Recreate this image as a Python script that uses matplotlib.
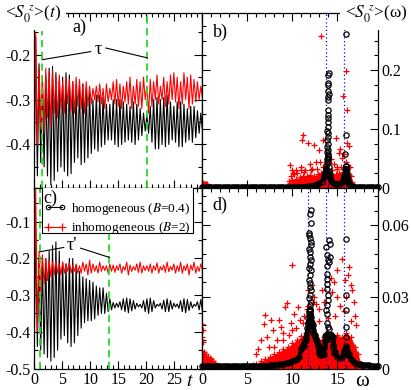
import numpy as np
import matplotlib
matplotlib.use("Agg")
import matplotlib.pyplot as plt
from matplotlib.ticker import MultipleLocator
from matplotlib.lines import Line2D
from matplotlib.patches import Rectangle

plt.rcParams['font.family'] = ['Liberation Serif', 'DejaVu Serif']
plt.rcParams['mathtext.fontset'] = 'stix'
plt.rcParams['axes.unicode_minus'] = False
plt.rcParams['font.size'] = 11.5

# ---------------- time series (extrema sampled every dt) ----------------
dt = 0.3
a_black = [-0.50, -0.16, -0.47, -0.22, -0.44, -0.26, -0.45, -0.25, -0.47, -0.23,
           -0.49, -0.226, -0.48, -0.24, -0.46, -0.26, -0.45, -0.25, -0.46, -0.24,
           -0.47, -0.245, -0.465, -0.26, -0.44, -0.28, -0.43, -0.27, -0.445, -0.265,
           -0.44, -0.275, -0.43, -0.285, -0.42, -0.30, -0.41, -0.29, -0.415, -0.29,
           -0.405, -0.295, -0.40, -0.31, -0.39, -0.31, -0.39, -0.30, -0.40, -0.30,
           -0.405, -0.30, -0.40, -0.305, -0.395, -0.31, -0.39, -0.315, -0.395, -0.305,
           -0.40, -0.31, -0.39, -0.32, -0.38, -0.33, -0.37, -0.335, -0.375, -0.315,
           -0.395, -0.30, -0.41, -0.295, -0.41, -0.30, -0.40, -0.295, -0.405, -0.29,
           -0.40, -0.305, -0.39, -0.315, -0.395, -0.305, -0.405, -0.305, -0.405, -0.31,
           -0.395, -0.32, -0.39, -0.315, -0.395, -0.315, -0.385, -0.325, -0.375, -0.33,
           -0.37]
a_red = [-0.50, -0.15, -0.40, -0.23, -0.36, -0.25, -0.37, -0.23, -0.34, -0.24,
         -0.36, -0.235, -0.33, -0.25, -0.34, -0.245, -0.32, -0.26, -0.33, -0.25,
         -0.31, -0.255, -0.325, -0.26, -0.33, -0.25, -0.315, -0.255, -0.32, -0.265,
         -0.33, -0.26, -0.315, -0.27, -0.31, -0.275, -0.30, -0.27, -0.305, -0.265,
         -0.31, -0.275, -0.32, -0.265, -0.305, -0.275, -0.30, -0.26, -0.31, -0.255,
         -0.315, -0.265, -0.32, -0.27, -0.305, -0.26, -0.31, -0.25, -0.32, -0.27,
         -0.31, -0.255, -0.315, -0.26, -0.32, -0.25, -0.30, -0.27, -0.33, -0.255,
         -0.315, -0.26, -0.30, -0.245, -0.31, -0.27, -0.30, -0.25, -0.315, -0.26,
         -0.31, -0.245, -0.30, -0.24, -0.305, -0.25, -0.32, -0.26, -0.31, -0.24,
         -0.30, -0.25, -0.32, -0.245, -0.31, -0.255, -0.305, -0.26, -0.30, -0.27,
         -0.295]
c_black = [-0.50, -0.12, -0.44, -0.20, -0.45, -0.21, -0.46, -0.20, -0.47, -0.18,
           -0.48, -0.165, -0.47, -0.155, -0.45, -0.18, -0.42, -0.21, -0.41, -0.215,
           -0.43, -0.20, -0.44, -0.20, -0.43, -0.22, -0.41, -0.235, -0.39, -0.25,
           -0.375, -0.255, -0.37, -0.26, -0.37, -0.265, -0.365, -0.275, -0.355, -0.28,
           -0.35, -0.28, -0.35, -0.295, -0.345, -0.31, -0.34, -0.32, -0.335, -0.322,
           -0.333, -0.318, -0.34, -0.31, -0.345, -0.308, -0.348, -0.31, -0.343, -0.315,
           -0.338, -0.322, -0.332, -0.325, -0.335, -0.315, -0.345, -0.31, -0.35, -0.308,
           -0.345, -0.315, -0.335, -0.325, -0.33, -0.322, -0.338, -0.314, -0.345, -0.31,
           -0.345, -0.315, -0.338, -0.322, -0.332, -0.324, -0.336, -0.315, -0.345, -0.31,
           -0.348, -0.312, -0.342, -0.318, -0.335, -0.325, -0.33, -0.318, -0.34, -0.312,
           -0.345]
c_red = [-0.50, -0.01, -0.40, -0.18, -0.29, -0.19, -0.27, -0.20, -0.26, -0.205,
         -0.25, -0.21, -0.245, -0.205, -0.24, -0.215, -0.245, -0.21, -0.24, -0.215,
         -0.235, -0.21, -0.24, -0.22, -0.235, -0.215, -0.24, -0.22, -0.24, -0.21,
         -0.235, -0.215, -0.245, -0.205, -0.24, -0.215, -0.235, -0.22, -0.24, -0.21,
         -0.235, -0.22, -0.233, -0.22, -0.24, -0.215, -0.235, -0.218, -0.238, -0.22,
         -0.232, -0.215, -0.24, -0.222, -0.232, -0.21, -0.245, -0.218, -0.235, -0.222,
         -0.232, -0.215, -0.238, -0.21, -0.24, -0.22, -0.233, -0.22, -0.235, -0.215,
         -0.24, -0.22, -0.232, -0.212, -0.24, -0.222, -0.232, -0.218, -0.238, -0.21,
         -0.236, -0.222, -0.232, -0.215, -0.24, -0.22, -0.235, -0.21, -0.24, -0.22,
         -0.233, -0.215, -0.245, -0.218, -0.232, -0.21, -0.24, -0.222, -0.235, -0.215,
         -0.23]
a_tau = [1.45, 20.2]
c_tau = [1.0, 13.4]

# ---------------- spectra ----------------
w_step = 0.25
b_base_v = [0.0015, 0.0012, 0.001, 0.001, 0.001, 0.001, 0.001, 0.001, 0.001, 0.001,
            0.001, 0.001, 0.001, 0.001, 0.001, 0.001, 0.001, 0.001, 0.001, 0.001,
            0.001, 0.001, 0.001, 0.001, 0.001, 0.001, 0.001, 0.001, 0.001, 0.001,
            0.001, 0.001, 0.001, 0.0012, 0.0012, 0.0012, 0.0013, 0.0014, 0.0015, 0.0015,
            0.0016, 0.0017, 0.0018, 0.002, 0.002, 0.0022, 0.0024, 0.0027, 0.003, 0.004,
            0.005, 0.006, 0.008, 0.011, 0.018, 0.032, 0.026, 0.012, 0.008, 0.006,
            0.006, 0.007, 0.01, 0.02, 0.022, 0.008, 0.004, 0.003, 0.002, 0.0018,
            0.0016, 0.0015, 0.0014, 0.0013, 0.0012, 0.0012, 0.0011, 0.001, 0.001]
b_pk_w = [13.55, 13.6, 13.65, 13.7, 13.75, 13.8, 13.85, 13.9, 13.95, 14.0, 14.05, 14.1, 14.15, 14.2, 14.3,
          15.6, 15.65, 15.7, 15.75, 15.8, 15.85, 15.9, 15.95, 16.0, 16.05, 16.1, 16.15, 16.2]
b_pk_v = [0.02, 0.023, 0.027, 0.032, 0.038, 0.044, 0.05, 0.053, 0.05, 0.044, 0.036, 0.029, 0.023, 0.018, 0.013,
          0.012, 0.014, 0.017, 0.021, 0.026, 0.032, 0.037, 0.038, 0.033, 0.026, 0.02, 0.015, 0.011]
b_col_w = [14.05, 13.98, 13.9, 14.0, 13.95, 14.02, 13.92, 13.97, 13.9, 13.93, 13.95, 13.92, 13.9, 13.88, 13.9,
           13.92, 13.88, 13.9, 13.86, 13.9, 13.88, 13.92, 13.9,
           15.92, 15.9, 15.88, 15.9, 15.92, 15.9]
b_col_v = [0.195, 0.191, 0.178, 0.174, 0.165, 0.160, 0.155, 0.149, 0.133, 0.124, 0.118, 0.112, 0.104, 0.097, 0.093,
           0.086, 0.081, 0.075, 0.070, 0.065, 0.061, 0.058, 0.054,
           0.262, 0.090, 0.058, 0.038, 0.033, 0.028]
b_mass_w = [0.0, 0.2, 0.4, 0.6, 0.8,
            9.4, 9.7, 10.0, 10.4, 10.8, 11.2, 11.6, 12.0, 12.4, 12.8, 13.2, 13.6, 14.0, 14.4, 14.8,
            15.2, 15.6, 16.0, 16.3, 16.6, 16.8]
b_mass_v = [0.008, 0.007, 0.006, 0.004, 0.0,
            0.0, 0.008, 0.013, 0.016, 0.018, 0.02, 0.021, 0.022, 0.021, 0.023, 0.025, 0.027, 0.024, 0.022, 0.024,
            0.026, 0.028, 0.03, 0.022, 0.01, 0.0]
b_sc_w = [13.22, 15.89, 15.63, 16.10, 11.15, 11.07, 11.70, 12.35, 13.37, 14.78, 15.26, 16.07, 16.26, 15.70, 15.15,
          9.70, 15.48, 12.90, 13.10, 10.40, 10.90, 11.90, 12.60, 14.30, 14.60, 15.90, 16.40, 10.10, 11.40, 12.20,
          13.60, 14.10, 15.00, 16.50, 9.90, 9.80, 10.20, 10.50, 11.00, 11.30, 12.10, 12.70, 13.40, 14.40, 14.90,
          15.40, 16.20, 9.60, 0.10, 0.30, 0.50]
b_sc_v = [0.258, 0.199, 0.157, 0.132, 0.090, 0.081, 0.077, 0.073, 0.081, 0.085, 0.067, 0.077, 0.071, 0.057, 0.059,
          0.039, 0.051, 0.064, 0.045, 0.030, 0.035, 0.040, 0.045, 0.050, 0.040, 0.045, 0.035, 0.025, 0.030, 0.032,
          0.038, 0.042, 0.036, 0.020, 0.030, 0.020, 0.024, 0.026, 0.030, 0.027, 0.030, 0.032, 0.035, 0.030, 0.032,
          0.036, 0.036, 0.012, 0.008, 0.007, 0.006]
b_lines = [13.7, 15.7]

d_base_v = [0.001, 0.001, 0.001, 0.001, 0.001, 0.001, 0.001, 0.001, 0.001, 0.001,
            0.001, 0.001, 0.001, 0.001, 0.001, 0.001, 0.001, 0.001, 0.001, 0.001,
            0.001, 0.001, 0.001, 0.001, 0.001, 0.001, 0.0011, 0.0011, 0.0012, 0.0012,
            0.0013, 0.0014, 0.0015, 0.0016, 0.0017, 0.0018, 0.002, 0.0022, 0.0024, 0.0027,
            0.003, 0.0035, 0.004, 0.005, 0.008, 0.0095, 0.012, 0.019, 0.023, 0.018,
            0.014, 0.011, 0.007, 0.0055, 0.006, 0.012, 0.014, 0.014, 0.013, 0.007,
            0.005, 0.0045, 0.005, 0.007, 0.0085, 0.006, 0.004, 0.003, 0.0025, 0.002,
            0.0018, 0.0016, 0.0015, 0.0014, 0.0013, 0.0012, 0.0011, 0.001, 0.001]
d_pk_w = [11.1, 11.2, 11.3, 11.4, 11.5, 11.6, 11.65, 11.7, 11.75, 11.8, 11.85, 11.9, 11.95, 12.0, 12.05,
          12.1, 12.15, 12.2, 12.3, 12.4, 12.5, 12.6, 12.7, 12.8, 12.9, 13.0, 13.1,
          13.5, 13.55, 13.6, 13.65, 13.7, 13.75, 13.8, 13.85, 13.9, 13.95, 14.0, 14.05, 14.1, 14.15, 14.2,
          14.25, 14.3, 14.35, 14.4, 14.45, 14.5, 14.6,
          15.7, 15.75, 15.8, 15.85, 15.9, 15.95, 16.0, 16.05, 16.1, 16.2]
d_pk_v = [0.009, 0.010, 0.011, 0.012, 0.013, 0.015, 0.017, 0.019, 0.021, 0.023, 0.024, 0.0245, 0.024, 0.023, 0.0215,
          0.020, 0.019, 0.018, 0.016, 0.0145, 0.013, 0.012, 0.011, 0.0095, 0.008, 0.0065, 0.0055,
          0.0085, 0.010, 0.012, 0.0135, 0.014, 0.014, 0.0142, 0.014, 0.0138, 0.014, 0.0142, 0.014, 0.0138, 0.014, 0.0139,
          0.014, 0.0135, 0.013, 0.012, 0.01, 0.0085, 0.0065,
          0.0065, 0.007, 0.0075, 0.008, 0.0085, 0.0085, 0.008, 0.0075, 0.007, 0.0055]
d_col_w = [12.11, 11.96, 12.05, 11.85, 11.78, 11.95, 12.02, 12.08, 11.85, 12.0, 11.9, 12.08, 12.0, 11.85, 12.02,
           11.92, 11.85, 12.0, 11.9, 12.05, 12.0, 11.85, 12.08, 11.92, 12.0, 11.9, 11.95, 12.05, 11.88, 11.98,
           14.1, 14.15, 13.7, 13.8, 14.15, 13.92, 14.05, 13.85, 13.8, 13.8, 13.8, 13.8, 13.9, 13.95, 13.8,
           13.75, 13.8, 13.95, 14.1, 13.85,
           15.97, 15.9, 15.95, 15.9, 15.95, 15.9, 15.93]
d_col_v = [0.0665, 0.0648, 0.0609, 0.0568, 0.0558, 0.0544, 0.053, 0.0516, 0.0502, 0.0488, 0.0467, 0.0453, 0.0439, 0.0422, 0.0411,
           0.039, 0.0369, 0.0356, 0.0342, 0.0328, 0.0307, 0.0293, 0.0279, 0.0265, 0.0251, 0.023, 0.021, 0.0195, 0.018, 0.0165,
           0.0537, 0.052, 0.0509, 0.0474, 0.0467, 0.0453, 0.0446, 0.043, 0.0397, 0.0376, 0.0355, 0.0334, 0.0307, 0.0286, 0.0265,
           0.0244, 0.023, 0.0174, 0.0167, 0.019,
           0.054, 0.0307, 0.0244, 0.0174, 0.0132, 0.0095, 0.008]
d_mass_w = [0.0, 0.2, 0.4, 0.6, 0.8, 1.0, 1.2, 1.4, 1.6, 1.8,
            4.8, 5.2, 5.6, 6.0, 6.5, 7.0, 7.5, 8.0, 8.5, 9.0, 9.5, 10.0, 10.5, 11.0, 11.5,
            12.0, 12.5, 13.0, 13.5, 14.0, 14.5, 15.0, 15.5, 16.0, 16.5, 17.0, 17.3, 17.6, 17.8]
d_mass_v = [0.0075, 0.0068, 0.006, 0.005, 0.0045, 0.004, 0.003, 0.0025, 0.0015, 0.0,
            0.0, 0.001, 0.0015, 0.002, 0.003, 0.004, 0.005, 0.006, 0.007, 0.008, 0.009, 0.0105, 0.012, 0.0135, 0.015,
            0.016, 0.014, 0.012, 0.013, 0.015, 0.014, 0.014, 0.013, 0.015, 0.013, 0.009, 0.006, 0.002, 0.0]
d_sc_w = [9.96, 15.52, 16.33, 16.20, 16.45, 16.60, 15.80, 16.00, 14.98, 14.30, 14.60, 13.30, 11.73, 9.40, 9.20,
          7.00, 6.80, 7.60, 8.50, 8.70, 8.30, 7.20, 8.00, 10.20, 10.60, 10.80, 0.00, 0.05, 0.00, 0.10,
          12.40, 12.60, 13.00, 13.50, 14.40, 15.00, 15.30, 16.80, 16.90, 17.10, 11.30, 11.60, 12.90, 9.80, 10.40,
          9.00, 7.80, 6.50, 6.20, 7.40, 5.90, 16.50, 15.70, 14.70, 13.90, 12.20, 12.30, 11.70, 11.20, 10.00,
          9.60, 8.90]
d_sc_v = [0.0432, 0.046, 0.0425, 0.039, 0.035, 0.033, 0.037, 0.030, 0.0411, 0.038, 0.036, 0.0328, 0.0328, 0.0272, 0.0258,
          0.0222, 0.0188, 0.0202, 0.0202, 0.0174, 0.0119, 0.0132, 0.009, 0.023, 0.0258, 0.0202, 0.0188, 0.016, 0.013, 0.011,
          0.030, 0.027, 0.025, 0.028, 0.032, 0.030, 0.026, 0.028, 0.022, 0.018, 0.022, 0.025, 0.020, 0.019, 0.017,
          0.015, 0.016, 0.012, 0.008, 0.009, 0.006, 0.020, 0.024, 0.022, 0.021, 0.035, 0.028, 0.026, 0.019, 0.016,
          0.014, 0.012]
d_lines = [11.7, 13.7, 15.7]

legend_labels = ['homogeneous ($B$=0.4)', 'inhomogeneous ($B$=2)']

# ---------------- figure ----------------
fig = plt.figure(figsize=(4.11, 3.90), dpi=100)
ax_a = fig.add_axes([0.0827, 0.5179, 0.41, 0.4487])
ax_b = fig.add_axes([0.4927, 0.5179, 0.427, 0.4487])
ax_c = fig.add_axes([0.0827, 0.0551, 0.41, 0.4628])
ax_d = fig.add_axes([0.4927, 0.0551, 0.427, 0.4628])

GREEN = '#22dd22'


def style(ax, xmin, ymin):
    ax.xaxis.set_minor_locator(MultipleLocator(xmin))
    ax.yaxis.set_minor_locator(MultipleLocator(ymin))
    ax.tick_params(which='both', direction='in', top=True, right=True, width=0.8, pad=2.5)
    ax.tick_params(which='major', length=6)
    ax.tick_params(which='minor', length=3)
    for s in ax.spines.values():
        s.set_linewidth(0.9)


t = np.arange(len(a_black)) * dt

# panel a
ax_a.plot(t, a_black, color='black', lw=0.8)
ax_a.plot(t, a_red, color='red', lw=0.8)
ax_a.axvline(a_tau[0], ymax=0.9, color=GREEN, lw=1.3, ls=(0, (4, 2.5)))
ax_a.axvline(a_tau[1], color=GREEN, lw=1.3, ls=(0, (4, 2.5)))
ax_a.plot([a_tau[0], 10.1], [-0.211, -0.193], color='black', lw=0.8)
ax_a.plot([12.8, a_tau[1]], [-0.185, -0.207], color='black', lw=0.8)
ax_a.text(11.4, -0.188, 'τ', ha='center', va='center', fontsize=13)
ax_a.text(0.27, 0.92, 'a)', transform=ax_a.transAxes, ha='center', va='center', fontsize=13)
ax_a.set_xlim(0, 30)
ax_a.set_ylim(-0.497, -0.107)
ax_a.set_xticks([0, 5, 10, 15, 20, 25, 30])
ax_a.set_yticks([-0.4, -0.3, -0.2], labels=['-0.4', '-0.3', '-0.2'])
style(ax_a, 1, 0.05)
ax_a.tick_params(labelbottom=False)

# panel c
ax_c.plot(t, c_black, color='black', lw=0.8)
ax_c.plot(t, c_red, color='red', lw=0.8)
for x in c_tau:
    ax_c.axvline(x, color=GREEN, lw=1.3, ls=(0, (4, 2.5)))
ax_c.plot([c_tau[0], 5.3], [-0.182, -0.170], color='black', lw=0.8)
ax_c.plot([8.3, c_tau[1]], [-0.172, -0.197], color='black', lw=0.8)
ax_c.text(6.8, -0.166, "τ'", ha='center', va='center', fontsize=13)
ax_c.set_xlim(0, 30)
ax_c.set_ylim(-0.5, -0.008)
ax_c.set_xticks([0, 5, 10, 15, 20, 25, 30], labels=['0', '5', '10', '15', '20', '25', ''])
ax_c.set_yticks([-0.5, -0.4, -0.3, -0.2, -0.1], labels=['-0.5', '-0.4', '-0.3', '-0.2', '-0.1'])
style(ax_c, 1, 0.05)

# legend box (white, framed) spanning from the top of panel c
ax_c.add_patch(Rectangle((0.0475, 0.751), 0.896, 0.26, transform=ax_c.transAxes,
                         facecolor='white', edgecolor='black', lw=0.8, zorder=9, clip_on=True))
h1 = Line2D([], [], color='black', lw=0.8, marker='o', ms=3.2, mfc='none', mec='black', mew=0.8)
h2 = Line2D([], [], color='red', lw=0.8, marker='+', ms=5.5, mew=0.9)
leg = ax_c.legend([h1, h2], legend_labels, loc='upper left', bbox_to_anchor=(0.058, 0.93),
                  borderaxespad=0, borderpad=0, frameon=False,
                  fontsize=9.5, numpoints=2, handlelength=1.65, handletextpad=0.45,
                  labelspacing=0.28)
leg.set_zorder(10)
ax_c.text(0.095, 0.945, 'c)', transform=ax_c.transAxes, ha='center', va='center',
          fontsize=13, zorder=11)


def spectrum(ax, base_v, pk_w, pk_v, col_w, col_v, mass_w, mass_v, sc_w, sc_v, lines):
    wg = np.arange(len(base_v)) * w_step
    ax.fill_between(mass_w, 0, mass_v, color='red', lw=0, zorder=1)
    ax.plot(mass_w, mass_v, '+', color='red', ms=4.5, mew=0.9, zorder=2)
    ax.plot(sc_w, sc_v, '+', color='red', ms=4.5, mew=0.9, zorder=2)
    for x in lines:
        ax.axvline(x, color='blue', lw=0.9, ls=(0, (1, 2)), zorder=1.5)
    ax.plot(wg, base_v, color='black', lw=3.0, zorder=3, clip_on=False)
    ax.plot(wg, base_v, 'o', color='black', mfc='none', ms=3.8, mew=0.9, zorder=3, clip_on=False)
    ax.plot(pk_w, pk_v, 'o', color='black', mfc='none', ms=3.8, mew=0.9, zorder=3)
    ax.plot(col_w, col_v, 'o', color='black', mfc='none', ms=3.8, mew=0.9, zorder=3)


spectrum(ax_b, b_base_v, b_pk_w, b_pk_v, b_col_w, b_col_v, b_mass_w, b_mass_v, b_sc_w, b_sc_v, b_lines)
ax_b.set_xlim(0, 19.5)
ax_b.set_ylim(0, 0.297)
ax_b.set_xticks([0, 5, 10, 15])
ax_b.set_yticks([0, 0.1, 0.2], labels=['0', '0.1', '0.2'])
style(ax_b, 1, 0.025)
ax_b.tick_params(labelbottom=False, labelleft=False, labelright=True)
ax_b.text(0.10, 0.89, 'b)', transform=ax_b.transAxes, ha='center', va='center', fontsize=13)

spectrum(ax_d, d_base_v, d_pk_w, d_pk_v, d_col_w, d_col_v, d_mass_w, d_mass_v, d_sc_w, d_sc_v, d_lines)
ax_d.set_xlim(0, 19.5)
ax_d.set_ylim(0, 0.0755)
ax_d.set_xticks([0, 5, 10, 15])
ax_d.set_yticks([0, 0.03, 0.06], labels=['0', '0.03', '0.06'])
style(ax_d, 1, 0.006)
ax_d.tick_params(labelleft=False, labelright=True)
ax_d.text(0.10, 0.906, 'd)', transform=ax_d.transAxes, ha='center', va='center', fontsize=13)

# axis titles (white background hides the panel corners, as in the original)
box = dict(facecolor='white', edgecolor='none', pad=3.5)
fig.text(0.012, 0.963, '<$S_0^{\\ z}$>($t$)', ha='left', va='center', fontsize=12.5, bbox=box)
fig.text(0.993, 0.963, '<$S_0^{\\ z}$>(ω)', ha='right', va='center', fontsize=12.5, bbox=box)
fig.text(190 / 411, 1 - 381 / 390, '$t$', ha='center', va='center', fontsize=14)
fig.text(362 / 411, 1 - 381 / 390, 'ω', ha='center', va='center', fontsize=15)

fig.savefig('out.png', dpi=100)
